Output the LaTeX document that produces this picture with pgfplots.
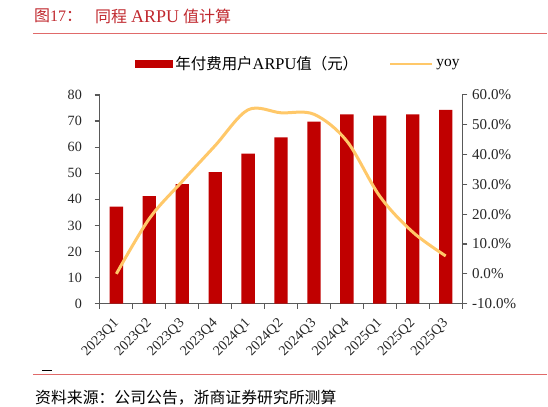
\documentclass[border=0pt]{standalone}
\usepackage{fontspec}
\setmainfont{Liberation Serif}
\newfontfamily\cjk{Noto Sans CJK SC}
\usepackage{pgfplots}
\pgfplotsset{compat=1.18}
\definecolor{barred}{HTML}{C00000}
\definecolor{yoyc}{HTML}{FFC869}
\definecolor{axgray}{HTML}{595959}
\definecolor{titlered}{HTML}{C0282E}
\definecolor{rulered}{HTML}{E06A6A}
\begin{document}
\begin{tikzpicture}[x=0.75pt,y=0.75pt]
\path (0,0) rectangle (548,407);
% title
\node[anchor=west, text=titlered, font=\fontsize{12}{13}\selectfont, inner sep=0] at (34,391) {{\cjk 图}17{\cjk ：}};
\node[anchor=west, text=titlered, font=\fontsize{12}{13}\selectfont, inner sep=0] at (95,391) {{\cjk 同程} {\fontsize{13.5}{14}\selectfont ARPU} {\cjk 值计算}};
\draw[rulered, line width=0.9pt] (33,373.5) -- (548,373.5);
% bottom
\draw[rulered, line width=0.9pt] (33,32) -- (548,32);
\draw[black, line width=0.6pt] (42,36) -- (52,36);
\node[anchor=west, font=\fontsize{11.9}{13}\selectfont, inner sep=0] at (35,9) {\cjk 资料来源：公司公告，浙商证券研究所测算};

\begin{axis}[
 at={(75pt,77.25pt)}, anchor=south west, scale only axis, width=272pt, height=156.75pt,
 xmin=-0.5, xmax=10.5, ymin=0, ymax=80,
 axis x line*=bottom, axis y line*=left,
 axis line style={axgray, line width=0.9pt, -},
 xtick={-0.5,0.5,...,10.5}, xticklabels={},
 extra x ticks={0,1,...,10},
 extra x tick labels={2023Q1,2023Q2,2023Q3,2023Q4,2024Q1,2024Q2,2024Q3,2024Q4,2025Q1,2025Q2,2025Q3},
 extra x tick style={major tick length=0pt, xticklabel style={xshift=-3pt, yshift=-8.5pt, rotate=45, anchor=north east, inner sep=1pt}},
 ytick={0,10,...,80},
 yticklabel style={xshift=-6pt},
 tick align=outside, major tick length=4pt,
 tick style={axgray, line width=0.9pt},
 ticklabel style={font=\fontsize{10.6}{12}\selectfont, text=black!85},
 /pgf/number format/assume math mode=true,
 ybar, bar width=10pt,
]
\addplot[fill=barred, draw=none] coordinates {
 (0,37.2) (1,41.2) (2,45.8) (3,50.4) (4,57.5) (5,63.7) (6,69.8) (7,72.5) (8,72.1) (9,72.5) (10,74.3)};
\end{axis}

\begin{axis}[
 at={(75pt,77.25pt)}, anchor=south west, scale only axis, width=272pt, height=156.75pt,
 xmin=-0.5, xmax=10.5, ymin=-10, ymax=60,
 axis x line=none, axis y line*=right,
 axis line style={axgray, line width=0.9pt, -},
 ytick={-10,0,...,60},
 yticklabel={\pgfmathprintnumber[fixed,fixed zerofill,precision=1]{\tick}\%},
 tick align=outside, major tick length=4pt,
 tick style={axgray, line width=0.9pt},
 ticklabel style={font=\fontsize{11.3}{12}\selectfont, text=black!85},
 /pgf/number format/assume math mode=true,
 legend style={at={(0.549,1.148)}, anchor=center, draw=none, fill=none,
   font=\fontsize{11.6}{13}\selectfont, /tikz/every even column/.append style={column sep=21pt}},
 legend columns=2, legend cell align=left,
]
\addlegendimage{legend image code/.code={\fill[barred] (0pt,-2.6pt) rectangle (27.75pt,2.6pt);}}
\addlegendentry{{\cjk 年付费用户}{\fontsize{12.3}{13}\selectfont ARPU}{\cjk 值（元）}}
\addplot[yoyc, line width=2.25pt, smooth, tension=0.55,
  legend image code/.code={\draw[yoyc, line width=2.25pt] (0pt,0pt) -- (31.5pt,0pt);}] coordinates {
 (0,0) (1,18.5) (2,31) (3,43) (4,55) (5,54) (6,53.5) (7,44.5) (8,26) (9,14) (10,6)};
\addlegendentry{yoy}
\end{axis}
\end{tikzpicture}
\end{document}
